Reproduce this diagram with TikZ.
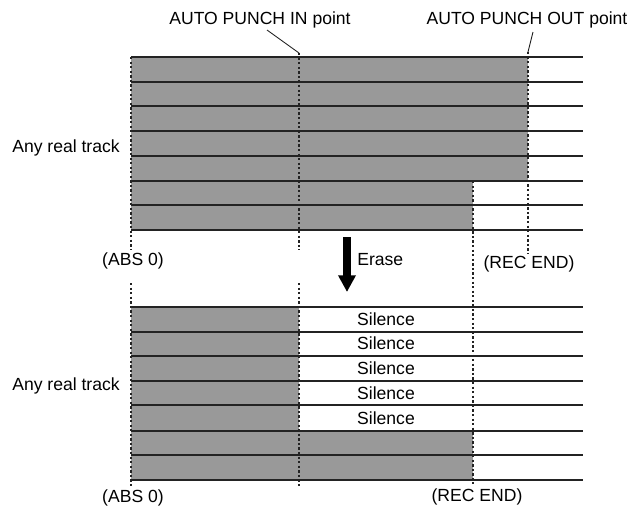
\documentclass[tikz,border=0pt]{standalone}
\usepackage{fontspec}
\setmainfont{Liberation Sans}
\usetikzlibrary{arrows.meta,positioning}
\definecolor{trackgray}{RGB}{153,153,153}
\definecolor{inkdark}{RGB}{35,35,35}

\begin{document}
\begin{tikzpicture}[
        x=0.02cm, y=-0.02cm,
        every node/.style={font=\fontsize{10}{12}\selectfont, inner sep=0pt},
        trackline/.style={inkdark, line width=0.8pt},
        marker/.style={inkdark, line width=0.7pt, dash pattern=on 1.3pt off 1.3pt},
        leader/.style={inkdark, line width=0.5pt},
        erasearrow/.style={line width=4pt, -{Triangle[length=9.5pt, width=9.5pt]}},
    ]
        \useasboundingbox (0,0) rectangle (637,508);

        % recorded data, before
        \fill[trackgray] (131,57) rectangle (528,181);
        \fill[trackgray] (131,181) rectangle (473,230);
        \foreach \y in {57,82,106,131,156,181,205,230}
            \draw[trackline] (131,\y) -- (583,\y);

        % recorded data, after
        \fill[trackgray] (131,307) rectangle (299,431);
        \fill[trackgray] (131,431) rectangle (473,480);
        \foreach \y in {307,332,356,381,405,431,455,480}
            \draw[trackline] (131,\y) -- (583,\y);

        % position markers
        \coordinate (abstop) at (131,57);
        \coordinate (absmid) at (131,250);
        \coordinate (pintop) at (299,53);
        \coordinate (pinmid) at (299,250);
        \coordinate (pouttop) at (528,52);
        \coordinate (poutend) at (528,254);
        \coordinate (rectop) at (473,181);
        \coordinate (recend) at (473,484);
        \coordinate (absbot) at (131,283);
        \coordinate (absend) at (131,488);
        \coordinate (pinbot) at (299,283);
        \coordinate (pinend) at (299,488);

        \draw[marker] (abstop) -- (absmid);
        \draw[marker] (pintop) -- (pinmid);
        \draw[marker] (pouttop) -- (poutend);
        \draw[marker] (rectop) -- (recend);
        \draw[marker] (absbot) -- (absend);
        \draw[marker] (pinbot) -- (pinend);

        \node (punchin) at (260,20) {AUTO PUNCH IN point};
        \node (punchout) at (527,20) {AUTO PUNCH OUT point};
        \coordinate (pinlead) at (267,30);
        \coordinate (poutlead) at (533,32);
        \draw[leader] (pinlead) -- (pintop);
        \draw[leader] (poutlead) -- (pouttop);

        \node (trackup) at (66,148) {Any real track};
        \node (trackdown) at (66,386) {Any real track};

        \node (absup) at (133,261) {(ABS 0)};
        \node (absdown) at (133,498) {(ABS 0)};
        \node (recup) at (529,264) {(REC END)};
        \node (recdown) at (477,497) {(REC END)};

        % erase step
        \coordinate (erasestart) at (347,237);
        \coordinate (erasetip) at (347,292);
        \draw[erasearrow] (erasestart) -- (erasetip);
        \node[anchor=west] (erase) at (357,260) {Erase};

        \foreach \y [count=\i] in {319,343,368,393,418}
            \node (silence\i) at (386,\y) {Silence};
    \end{tikzpicture}
\end{document}
